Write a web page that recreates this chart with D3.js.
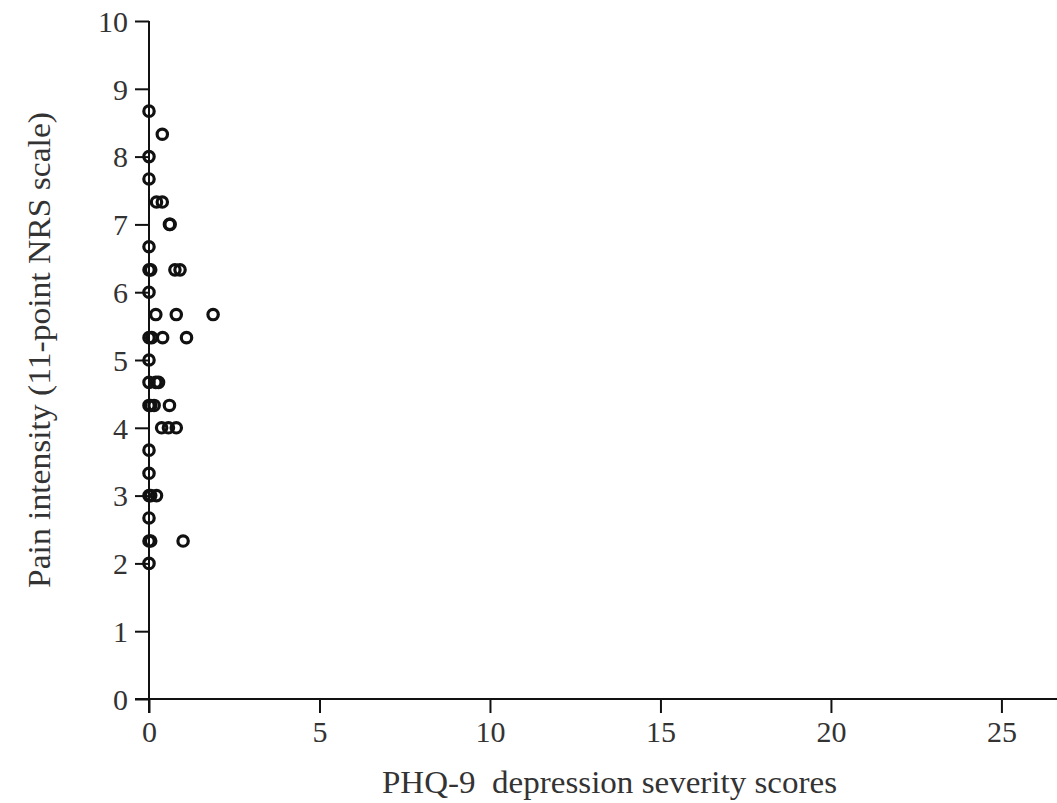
<!DOCTYPE html>
<html>
<head>
<meta charset="utf-8">
<script src="https://cdn.jsdelivr.net/npm/d3@7"></script>
<style>
  html, body { margin: 0; padding: 0; background: #fff; }
  svg { display: block; }
  text { font-family: "Liberation Serif", "DejaVu Serif", serif; fill: #333; }
</style>
</head>
<body>
<svg id="chart" width="1057" height="803"></svg>
<script>
// PHQ-9 score (x) against pain intensity on the 11-point NRS (y)
const phqScores = [
  0, 0.39, 0, 0, 0.22, 0.39, 0.6, 0.62, 0,
  0, 0.05, 0.76, 0.91, 0,
  0.2, 0.8, 1.88,
  0, 0.08, 0.4, 1.1, 0,
  0, 0.2, 0.28,
  0, 0.05, 0.15, 0.6,
  0.37, 0.57, 0.8,
  0, 0,
  0, 0.05, 0.22,
  0,
  0, 0.05, 1.0,
  0
];
const painScores = [
  8.67, 8.33, 8.0, 7.67, 7.33, 7.33, 7.0, 7.0, 6.67,
  6.33, 6.33, 6.33, 6.33, 6.0,
  5.67, 5.67, 5.67,
  5.33, 5.33, 5.33, 5.33, 5.0,
  4.67, 4.67, 4.67,
  4.33, 4.33, 4.33, 4.33,
  4.0, 4.0, 4.0,
  3.67, 3.33,
  3.0, 3.0, 3.0,
  2.67,
  2.33, 2.33, 2.33,
  2.0
];
const xTicks = [0, 5, 10, 15, 20, 25];
const yTicks = [0, 1, 2, 3, 4, 5, 6, 7, 8, 9, 10];
const xLabel = "PHQ-9  depression severity scores";
const yLabel = "Pain intensity (11-point NRS scale)";

const points = phqScores.map((v, i) => ({ x: v, y: painScores[i] }));

const svg = d3.select("#chart");
const plotLeft = 149, plotRight = 1057, plotTop = 21, plotBottom = 699;
const tickLen = 14;

const x = d3.scaleLinear().domain([0, 26.63]).range([plotLeft, plotRight]);
const y = d3.scaleLinear().domain([0, 10]).range([plotBottom, plotTop]);

// x axis
const xAxis = svg.append("g")
  .attr("transform", `translate(0,${plotBottom})`)
  .call(d3.axisBottom(x).tickValues(xTicks).tickSize(tickLen).tickPadding(8).tickSizeOuter(0));
// y axis
const yAxis = svg.append("g")
  .attr("transform", `translate(${plotLeft},0)`)
  .call(d3.axisLeft(y).tickValues(yTicks).tickSize(tickLen).tickPadding(7).tickSizeOuter(0));

[xAxis, yAxis].forEach(g => {
  g.select(".domain").remove();
  g.selectAll(".tick line").attr("stroke", "#111").attr("stroke-width", 2);
  g.selectAll(".tick text")
    .attr("font-size", 30)
    .attr("fill", "#3a3a3a")
    .attr("font-family", "Liberation Serif, serif");
});
yAxis.selectAll(".tick text").attr("dy", "0.34em");

// axis lines, extended to meet the outer ticks at the origin
svg.append("line")
  .attr("x1", plotLeft - tickLen).attr("x2", plotRight)
  .attr("y1", plotBottom).attr("y2", plotBottom)
  .attr("stroke", "#111").attr("stroke-width", 2);
svg.append("line")
  .attr("x1", plotLeft).attr("x2", plotLeft)
  .attr("y1", plotTop).attr("y2", plotBottom + tickLen)
  .attr("stroke", "#111").attr("stroke-width", 2);

// axis titles
svg.append("text")
  .attr("x", 382)
  .attr("y", 793)
  .attr("font-size", 32)
  .attr("textLength", 455)
  .attr("lengthAdjust", "spacingAndGlyphs")
  .style("white-space", "pre")
  .text(xLabel);

svg.append("text")
  .attr("transform", `translate(50,588) rotate(-90)`)
  .attr("font-size", 32)
  .attr("textLength", 476)
  .attr("lengthAdjust", "spacingAndGlyphs")
  .text(yLabel);

// data points
svg.append("g")
  .selectAll("circle")
  .data(points)
  .join("circle")
  .attr("cx", d => x(d.x))
  .attr("cy", d => y(d.y))
  .attr("r", 5.2)
  .attr("fill", "none")
  .attr("stroke", "#111")
  .attr("stroke-width", 3.2);
</script>
</body>
</html>
